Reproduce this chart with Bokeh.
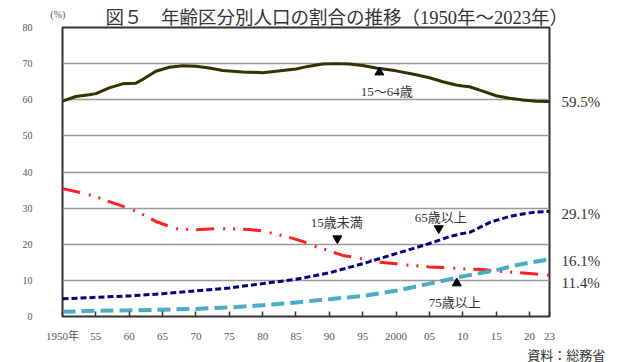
from bokeh.plotting import figure
from bokeh.models import Label, FixedTicker, Range1d, LinearAxis
from bokeh.embed import file_html
from bokeh.resources import INLINE

# ---- data ----
years_1564 = [1950, 1952, 1954, 1955, 1957, 1959, 1961, 1962, 1964, 1966, 1968, 1970, 1972, 1974,
              1977, 1980, 1983, 1985, 1987, 1989, 1991, 1993, 1995, 1997, 2000, 2003, 2005, 2007,
              2009, 2010, 2011, 2013, 2015, 2017, 2019, 2021, 2023]
vals_1564 = [59.6, 60.9, 61.4, 61.7, 63.3, 64.4, 64.6, 65.6, 67.9, 69.0, 69.4, 69.3, 68.8, 68.1,
             67.7, 67.5, 68.1, 68.5, 69.3, 69.9, 70.0, 69.9, 69.5, 68.8, 68.0, 66.9, 66.1, 65.0,
             64.1, 63.8, 63.6, 62.4, 61.1, 60.4, 59.9, 59.6, 59.5]

years_014 = [1950, 1953, 1955, 1957, 1960, 1962, 1964, 1967, 1970, 1973, 1975, 1978, 1980, 1982,
             1984, 1986, 1988, 1990, 1992, 1994, 1997, 2000, 2002, 2005, 2008, 2010, 2013, 2015,
             2017, 2020, 2023]
vals_014 = [35.4, 34.2, 33.2, 31.8, 29.9, 28.3, 26.3, 24.3, 24.0, 24.3, 24.3, 24.1, 23.7, 22.8,
            21.9, 20.8, 19.3, 18.2, 16.9, 16.3, 15.1, 14.6, 14.2, 13.7, 13.5, 13.2, 13.0, 12.6,
            12.3, 11.9, 11.4]

years_65 = [1950, 1955, 1960, 1965, 1970, 1975, 1980, 1985, 1990, 1995, 2000, 2005, 2008, 2010,
            2011, 2012, 2013, 2014, 2015, 2017, 2019, 2021, 2023]
vals_65 = [4.9, 5.3, 5.7, 6.3, 7.1, 7.9, 9.1, 10.3, 12.1, 14.6, 17.4, 20.2, 22.1, 23.0,
           23.3, 24.1, 25.1, 26.0, 26.6, 27.7, 28.4, 28.9, 29.1]

years_75 = [1950, 1955, 1960, 1965, 1970, 1975, 1980, 1985, 1990, 1995, 2000, 2005, 2010, 2015,
            2018, 2020, 2022, 2023]
vals_75 = [1.3, 1.6, 1.7, 1.9, 2.1, 2.5, 3.1, 3.9, 4.8, 5.7, 7.1, 9.1, 11.1, 12.8,
           14.2, 14.9, 15.5, 16.1]

x_ticks = [1950, 1955, 1960, 1965, 1970, 1975, 1980, 1985, 1990, 1995, 2000, 2005, 2010, 2015, 2020, 2023]
x_tick_labels = ["1950年", "55", "60", "65", "70", "75", "80", "85", "90", "95", "2000", "05", "10", "15", "20", "23"]
y_ticks = [0, 10, 20, 30, 40, 50, 60, 70, 80]

end_labels = ["59.5%", "29.1%", "16.1%", "11.4%"]
end_label_y = [59.3, 28.4, 15.5, 9.3]

series_names = ["15～64歳", "15歳未満", "65歳以上", "75歳以上"]
name_x = [1998.6, 1991.1, 2006.7, 2008.8]
name_y = [62.3, 26.1, 27.5, 4.0]
tri_up_x = [1997.5, 2009.1]
tri_up_y = [67.6, 9.2]
tri_dn_x = [1991.2, 2006.4]
tri_dn_y = [21.6, 24.4]

title_text = "図５　年齢区分別人口の割合の推移（1950年～2023年）"
unit_text = "(%)"
source_text = "資料：総務省"

FONT = "'Liberation Serif', 'Noto Sans CJK JP', serif"

p = figure(width=640, height=362, output_backend="svg", toolbar_location=None,
           x_range=Range1d(1950, 2023), y_range=Range1d(0, 80),
           min_border_left=62, min_border_right=91, min_border_top=27, min_border_bottom=46)
p.background_fill_color = "white"
p.border_fill_color = "white"
p.outline_line_color = "#333333"
p.outline_line_width = 2

p.title.text = title_text
p.title.align = "left"
p.title.offset = 43
p.title.standoff = 0
p.title.text_font = FONT
p.title.text_font_size = "18.5px"
p.title.text_font_style = "normal"
p.title.text_color = "#333333"

p.xgrid.grid_line_color = None
p.ygrid.grid_line_color = "#999999"
p.ygrid.grid_line_width = 1.5
p.ygrid.ticker = FixedTicker(ticks=y_ticks)

p.xaxis.ticker = FixedTicker(ticks=x_ticks)
p.xaxis.major_label_overrides = {t: l for t, l in zip(x_ticks, x_tick_labels)}
p.xaxis.axis_line_color = None
p.xaxis.major_tick_in = 5
p.xaxis.major_tick_out = 0
p.xaxis.major_tick_line_color = "#333333"
p.xaxis.major_tick_line_width = 1.5
p.xaxis.minor_tick_line_color = None
p.xaxis.major_label_standoff = 13
p.xaxis.major_label_text_font = FONT
p.xaxis.major_label_text_font_size = "11px"
p.xaxis.major_label_text_color = "#555555"

p.yaxis.ticker = FixedTicker(ticks=y_ticks)
p.yaxis.axis_line_color = None
p.yaxis.major_tick_line_color = None
p.yaxis.minor_tick_line_color = None
p.yaxis.major_label_standoff = 24
p.yaxis.major_label_text_font = FONT
p.yaxis.major_label_text_font_size = "10px"
p.yaxis.major_label_text_color = "#555555"

# right-side end values as axis labels
raxis = LinearAxis(ticker=FixedTicker(ticks=end_label_y),
                   major_label_overrides={y: t for y, t in zip(end_label_y, end_labels)})
raxis.axis_line_color = None
raxis.major_tick_line_color = None
raxis.minor_tick_line_color = None
raxis.major_label_standoff = 6
raxis.major_label_text_font = FONT
raxis.major_label_text_font_size = "15px"
raxis.major_label_text_color = "#333333"
p.add_layout(raxis, "right")

p.line(years_1564, vals_1564, line_color="#333300", line_width=3)
p.line(years_014, vals_014, line_color="#ff2020", line_width=3, line_dash="18 9 2 8 2 8")
p.line(years_65, vals_65, line_color="#000080", line_width=3, line_dash="6 3")
p.line(years_75, vals_75, line_color="#4bacc6", line_width=4, line_dash="13 6")

p.scatter(tri_up_x, tri_up_y, marker="triangle", size=9, color="black")
p.scatter(tri_dn_x, tri_dn_y, marker="inverted_triangle", size=9, color="black")

for t, x, y in zip(series_names, name_x, name_y):
    p.add_layout(Label(x=x, y=y, text=t, text_font=FONT, text_font_size="13px",
                       text_color="#333333", text_align="center", text_baseline="middle"))

# unit label (left panel) and source note (below panel), placed in side panels so they are not clipped
unit_lbl = Label(x=1949.3, y=83.6, text=unit_text, text_font=FONT, text_font_size="10px",
                 text_color="#555555", text_align="center", text_baseline="middle")
p.add_layout(unit_lbl, "left")

src_lbl = Label(x=2025.5, y=-10.8, text=source_text, text_font=FONT, text_font_size="13px",
                text_color="#333333", text_align="center", text_baseline="middle")
p.add_layout(src_lbl, "below")

open("out.html", "w").write(file_html(p, INLINE))
